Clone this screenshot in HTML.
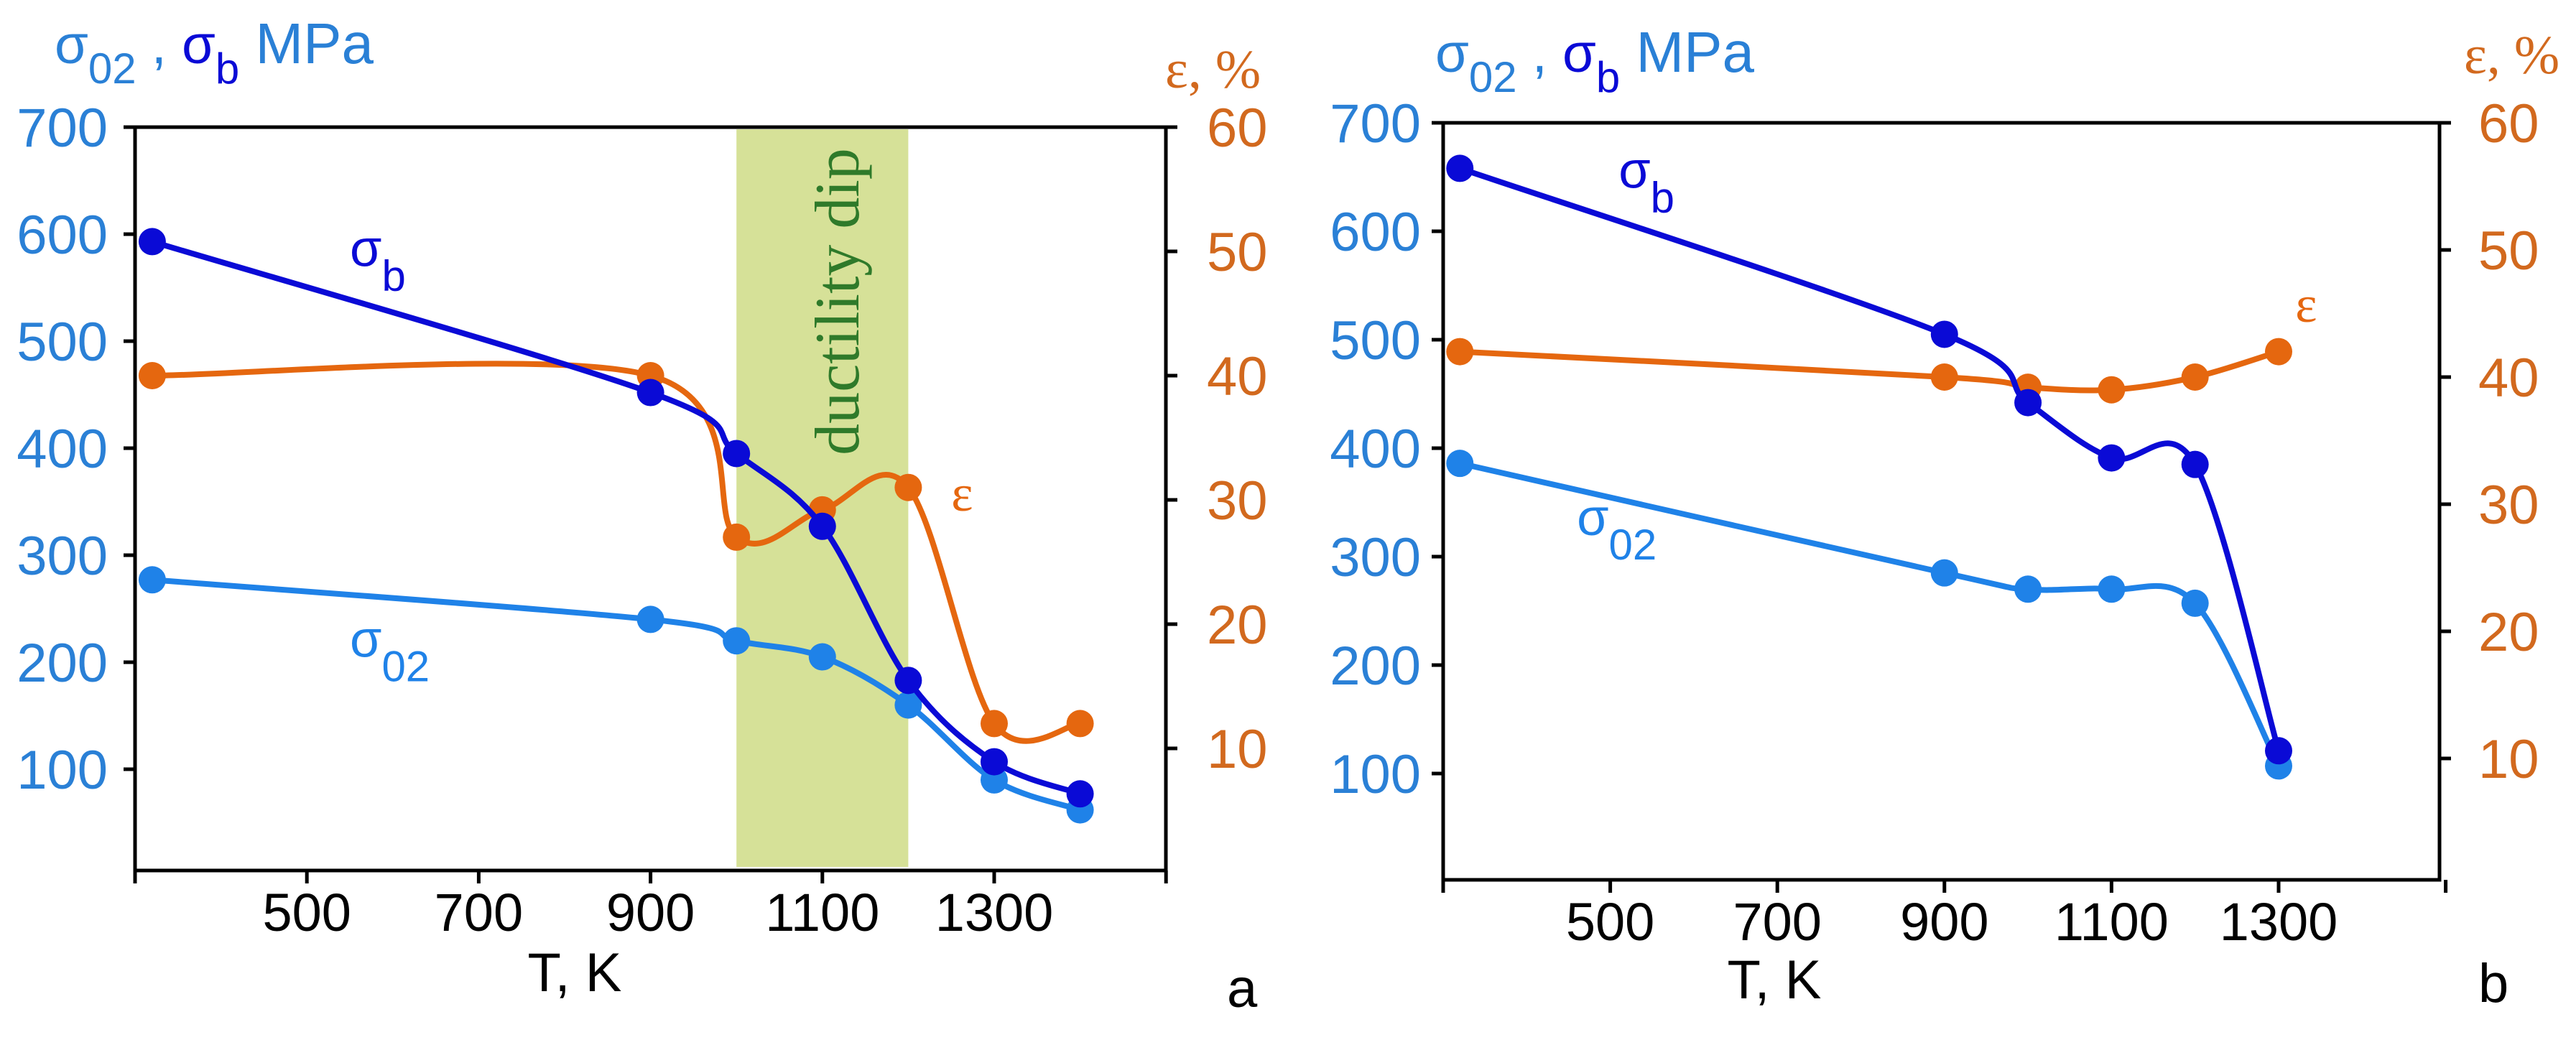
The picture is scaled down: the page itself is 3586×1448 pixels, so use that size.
<!DOCTYPE html>
<html><head><meta charset="utf-8"><style>
html,body{margin:0;padding:0;background:#fff;}
svg{display:block;}
text{font-family:"Liberation Sans",sans-serif;}
</style></head>
<body>
<svg id="fig" width="3586" height="1448" viewBox="0 0 3586 1448" xmlns="http://www.w3.org/2000/svg">
<rect x="0" y="0" width="3586" height="1448" fill="#fff"/>
</svg>
<script>
// ---- Data: panel a ----
const tempsA = [320, 900, 1000, 1100, 1200, 1300, 1400];
const sigmaBA = [593, 452, 395, 327, 183, 107, 77];
const sigma02A = [277, 240, 220, 205, 160, 90, 62];
const epsA = [40, 40, 27, 29.2, 31, 12, 12];
// ---- Data: panel b ----
const tempsB = [320, 900, 1000, 1100, 1200, 1300];
const sigmaBB = [658, 505, 442, 391, 385, 121];
const sigma02B = [386, 285, 270, 270, 257, 107];
const epsB = [42, 40, 39.2, 39, 40, 42];
// ---- Ticks ----
const xTickLabels = [500, 700, 900, 1100, 1300];
const xTickMarks = [300, 500, 700, 900, 1100, 1300, 1500];
const leftTicks = [100, 200, 300, 400, 500, 600, 700];
const rightTicks = [10, 20, 30, 40, 50, 60];
const dipRange = [1000, 1200];

const NS = "http://www.w3.org/2000/svg";
const svg = document.getElementById('fig');
const C_DARK = "#0a0ad6", C_LIGHT = "#1f82e8", C_ORANGE = "#e5670f";
const C_LTXT = "#2a80d6", C_RTXT = "#d2691e";

function el(tag, attrs, parent) {
  const e = document.createElementNS(NS, tag);
  for (const k in attrs) e.setAttribute(k, attrs[k]);
  (parent || svg).appendChild(e);
  return e;
}

function smoothPath(pts) {
  let d = `M${pts[0][0]},${pts[0][1]}`;
  for (let i = 0; i < pts.length - 1; i++) {
    const p0 = pts[i - 1] || pts[i], p1 = pts[i], p2 = pts[i + 1], p3 = pts[i + 2] || p2;
    const t = 0.5 / 3 * 2;
    const c1 = [p1[0] + (p2[0] - p0[0]) * t / 2, p1[1] + (p2[1] - p0[1]) * t / 2];
    const c2 = [p2[0] - (p3[0] - p1[0]) * t / 2, p2[1] - (p3[1] - p1[1]) * t / 2];
    d += ` C${c1[0]},${c1[1]} ${c2[0]},${c2[1]} ${p2[0]},${p2[1]}`;
  }
  return d;
}

function panel(cfg) {
  const g = el('g', {});
  
  
  const x = t => cfg.x0 + (t - 300) * cfg.kx;
  const yL = v => cfg.y0 - v * cfg.ky;
  const yR = v => cfg.y0r - v * cfg.kr;
  const L = cfg.x0, R = cfg.xR, T = cfg.top, B = cfg.bottom;

  if (cfg.dip) {
    const band = el('rect', {x: x(dipRange[0]), y: T + 3, width: x(dipRange[1]) - x(dipRange[0]), height: B - T - 8, fill: "#d6e198"}, g);
    
    
    const tx = x(1100) + 50, ty = 420;
    const dt = el('text', {x: tx, y: ty, 'text-anchor': 'middle', transform: `rotate(-90 ${tx} ${ty})`, fill: "#2f7a2a", 'font-size': 88, style: 'font-family:"Liberation Serif",serif'}, g);
    dt.textContent = 'ductility dip';
    
    
  }

  const frame = el('rect', {x: L, y: T, width: R - L, height: B - T, fill: 'none', stroke: '#000', 'stroke-width': 5}, g);
  
  

  xTickMarks.forEach(t => {
    const tk = el('line', {x1: x(t), x2: x(t), y1: B, y2: B + 18, stroke: '#000', 'stroke-width': 5}, g);
    
    
  });
  xTickLabels.forEach(t => {
    const lb = el('text', {x: x(t), y: B + 84, 'text-anchor': 'middle', 'font-size': 74, fill: '#000'}, g);
    lb.textContent = t;
    
    
  });
  leftTicks.forEach(v => {
    const tk = el('line', {x1: L - 16, x2: L, y1: yL(v), y2: yL(v), stroke: '#000', 'stroke-width': 5}, g);
    
    
    const lb = el('text', {x: cfg.lLabelX, y: yL(v) + 27, 'text-anchor': 'end', 'font-size': 76, fill: C_LTXT}, g);
    lb.textContent = v;
    
    
  });
  rightTicks.forEach(v => {
    const tk = el('line', {x1: R, x2: R + 16, y1: yR(v), y2: yR(v), stroke: '#000', 'stroke-width': 5}, g);
    
    
    const lb = el('text', {x: cfg.rLabelX, y: yR(v) + 27, 'text-anchor': 'start', 'font-size': 76, fill: C_RTXT}, g);
    lb.textContent = v;
    
    
  });

  function series(temps, vals, yf, color, name) {
    const sg = el('g', {}, g);
    
    
    const pts = temps.map((t, i) => [x(t), yf(vals[i])]);
    const p = el('path', {d: smoothPath(pts), fill: 'none', stroke: color, 'stroke-width': 8, 'stroke-linejoin': 'round'}, sg);
    
    
    pts.forEach(pt => {
      const c = el('circle', {cx: pt[0], cy: pt[1], r: 19, fill: color}, sg);
      
      
    });
  }
  series(cfg.temps, cfg.eps, yR, C_ORANGE, 'elongation-series');
  series(cfg.temps, cfg.s02, yL, C_LIGHT, 'yield-strength-series');
  series(cfg.temps, cfg.sb, yL, C_DARK, 'tensile-strength-series');

  function sigLabel(px, py, sub, color, name) {
    const t = el('text', {x: px, y: py, 'font-size': 72, fill: color}, g);
    t.innerHTML = `σ<tspan dy="34" font-size="60">${sub}</tspan>`;
    
    
  }
  sigLabel(x(cfg.sbLab[0]), yL(cfg.sbLab[1]), 'b', C_DARK, 'sigma-b-label');
  sigLabel(x(cfg.s02Lab[0]), yL(cfg.s02Lab[1]), '02', C_LIGHT, 'sigma-02-label');
  const el2 = el('text', {x: x(cfg.epsLab[0]), y: yR(cfg.epsLab[1]) + 22, 'font-size': 72, fill: C_ORANGE, style: 'font-family:"Liberation Serif",serif'}, g);
  el2.textContent = 'ε';
  
  

  const lt = el('text', {x: cfg.titleX, y: cfg.titleY, 'font-size': 76, fill: C_LTXT}, g);
  lt.innerHTML = `σ<tspan dy="28" font-size="60">02</tspan><tspan dy="-28"> , </tspan><tspan fill="${C_DARK}">σ</tspan><tspan dy="28" font-size="60" fill="${C_DARK}">b</tspan><tspan dy="-28" font-size="80">  MPa</tspan>`;
  
  
  const rt = el('text', {x: cfg.rTitleX, y: cfg.rTitleY, 'font-size': 76, fill: C_RTXT, style: 'font-family:"Liberation Serif",serif'}, g);
  rt.textContent = 'ε, %';
  
  
  const xt = el('text', {x: cfg.xTitleX, y: cfg.xTitleY, 'text-anchor': 'middle', 'font-size': 76, fill: '#000'}, g);
  xt.textContent = 'T, K';
  
  
  const pl = el('text', {x: cfg.letterX, y: cfg.letterY, 'font-size': 76, fill: '#000'}, g);
  pl.textContent = cfg.letter;
  
  
}

panel({name: 'panel-a', x0: 188, kx: 1.196, xR: 1623, top: 177, bottom: 1212,
  y0: 1220, ky: 1.49, y0r: 1215, kr: 17.3, lLabelX: 150, rLabelX: 1680,
  temps: tempsA, sb: sigmaBA, s02: sigma02A, eps: epsA, dip: true,
  sbLab: [550, 570], s02Lab: [550, 205], epsLab: [1250, 30.4],
  titleX: 76, titleY: 88, rTitleX: 1622, rTitleY: 122,
  xTitleX: 800, xTitleY: 1380, letter: 'a', letterX: 1708, letterY: 1402});

panel({name: 'panel-b', x0: 2009, kx: 1.163, xR: 3396, top: 171, bottom: 1225,
  y0: 1228, ky: 1.51, y0r: 1233, kr: 17.7, lLabelX: 1978, rLabelX: 3450,
  temps: tempsB, sb: sigmaBB, s02: sigma02B, eps: epsB, dip: false,
  sbLab: [510, 640], s02Lab: [460, 320], epsLab: [1320, 45.6],
  titleX: 1998, titleY: 100, rTitleX: 3430, rTitleY: 102,
  xTitleX: 2470, xTitleY: 1390, letter: 'b', letterX: 3450, letterY: 1395});
</script>
</body></html>
